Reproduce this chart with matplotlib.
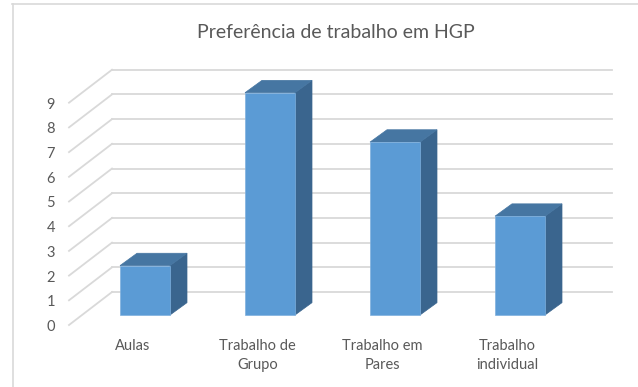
import matplotlib
matplotlib.use("Agg")
import matplotlib.pyplot as plt
from matplotlib.patches import Polygon
from matplotlib.lines import Line2D

plt.rcParams['font.family'] = ['Lato', 'DejaVu Sans']

# --- data ---
categories = ["Aulas", "Trabalho de\nGrupo", "Trabalho em\nPares", "Trabalho\nindividual"]
values = [2, 9, 7, 4]
ticks = list(range(0, 10))
title = "Preferência de trabalho em HGP"

# --- style ---
FRONT = "#5B9BD5"
TOP = "#4676A2"
SIDE = "#3A658E"
GRID = "#D9D9D9"
TEXT = "#595959"

W, H, DPI = 638, 387, 100
fig = plt.figure(figsize=(W / DPI, H / DPI), dpi=DPI)
fig.patch.set_facecolor("white")
ax = fig.add_axes([0, 0, 1, 1])
ax.set_axis_off()

# pseudo-3D geometry (category units along x, value units along y)
bar_w = 0.4
depth_dx, depth_dy = 0.136, 0.5          # bar depth
wall_dx, wall_dy = 0.24, 0.93            # back wall offset from bar front plane
floor_dx, floor_dy = -0.104, -0.405      # front edge of the floor
wall_left = -0.504
wall_right = 3.496

ax.set_xlim(-1.16, 3.944)
ax.set_ylim(-2.915, 12.753)

# gridlines on back wall and side wall
for t in ticks:
    ax.add_line(Line2D([wall_left + wall_dx, wall_right + wall_dx],
                       [t + wall_dy, t + wall_dy], color=GRID, lw=1.3, zorder=1))
    ax.add_line(Line2D([wall_left + floor_dx, wall_left + wall_dx],
                       [t + floor_dy, t + wall_dy], color=GRID, lw=1.3, zorder=1))
    ax.text(-0.72, t + floor_dy - 0.08, str(t), ha="right", va="center",
            fontsize=10.5, color=TEXT)

# bars: front face via bar(), top and side faces as polygons
xs = list(range(len(values)))
ax.bar(xs, values, width=bar_w, color=FRONT, edgecolor="#7FB0DE", linewidth=0.5, zorder=3)
for x, v in zip(xs, values):
    r = x + bar_w / 2
    l = x - bar_w / 2
    side = [(r, 0), (r, v), (r + depth_dx, v + depth_dy), (r + depth_dx, depth_dy)]
    top = [(l, v), (r, v), (r + depth_dx, v + depth_dy), (l + depth_dx, v + depth_dy)]
    ax.add_patch(Polygon(side, closed=True, facecolor=SIDE, edgecolor=SIDE, lw=0.5, zorder=2))
    ax.add_patch(Polygon(top, closed=True, facecolor=TOP, edgecolor=TOP, lw=0.5, zorder=2))

# category labels
for x, c in zip(xs, categories):
    ax.text(x - 0.1, -0.98, c, ha="center", va="top", fontsize=10.5,
            color=TEXT, linespacing=1.45, multialignment="center")

fig.text(336 / W, 1 - 33 / H, title, ha="center", va="center",
         fontsize=14, color=TEXT)

# chart frame
fig.add_artist(Line2D([12 / W, 1.0], [1 - 3.5 / H, 1 - 3.5 / H],
                      transform=fig.transFigure, color=GRID, lw=1.2))
fig.add_artist(Line2D([12.5 / W, 12.5 / W], [0, 1 - 3.5 / H],
                      transform=fig.transFigure, color=GRID, lw=1.2))

fig.savefig("out.png", dpi=DPI, facecolor="white")
